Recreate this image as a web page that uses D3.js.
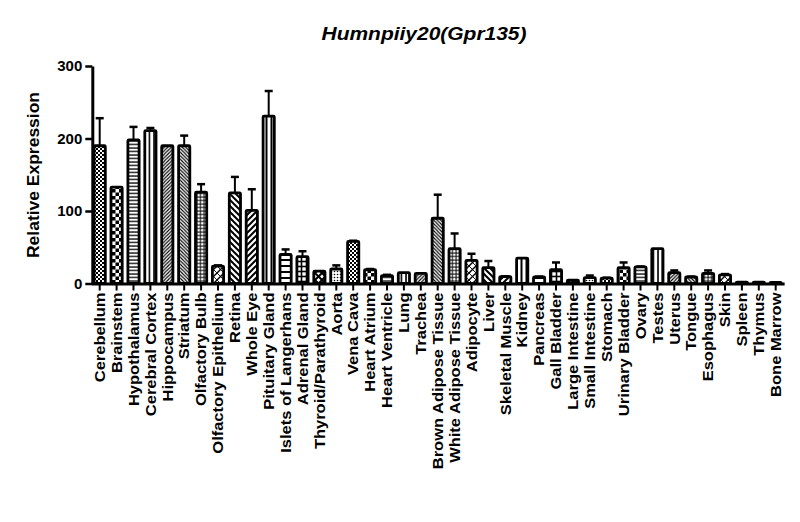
<!DOCTYPE html>
<html>
<head>
<meta charset="utf-8">
<script src="https://cdn.jsdelivr.net/npm/d3@7"></script>
<style>
body { margin: 0; background: #fff; }
text { font-family: "Liberation Sans", Arial, sans-serif; font-weight: bold; }
</style>
</head>
<body>
<svg id="chart" width="800" height="522"></svg>
<script>
var tissues = ["Cerebellum", "Brainstem", "Hypothalamus", "Cerebral Cortex", "Hippocampus",
  "Striatum", "Olfactory Bulb", "Olfactory Epithelium", "Retina", "Whole Eye",
  "Pituitary Gland", "Islets of Langerhans", "Adrenal Gland", "Thyroid/Parathyroid", "Aorta",
  "Vena Cava", "Heart Atrium", "Heart Ventricle", "Lung", "Trachea",
  "Brown Adipose Tissue", "White Adipose Tissue", "Adipocyte", "Liver", "Skeletal Muscle",
  "Kidney", "Pancreas", "Gall Bladder", "Large Intestine", "Small Intestine",
  "Stomach", "Urinary Bladder", "Ovary", "Testes", "Uterus",
  "Tongue", "Esophagus", "Skin", "Spleen", "Thymus", "Bone Marrow"];

var means = [190, 133, 198, 211, 190, 190, 126, 24, 125, 101,
  231, 40, 37, 17, 20, 58, 19, 11, 15, 14,
  90, 48, 32, 22, 9.5, 35, 9, 19, 4.5, 8,
  7.5, 22, 23, 48, 15, 9, 14, 12, 2, 2, 1.5];

var sems = [38, 0, 18, 3.5, 0, 14, 11, 1, 22, 29,
  34.5, 7, 7.5, 0, 5, 1, 1, 1, 0, 0,
  32.5, 21, 9, 9, 0.5, 0, 0.5, 10, 0, 3,
  0.5, 7, 0.5, 0, 3, 0.5, 4, 1, 0, 0, 0];

var yTicks = [0, 100, 200, 300];

var svg = d3.select("#chart");

var x = d3.scaleBand()
  .domain(tissues)
  .range([91.25, 784.15])
  .paddingInner(0.2)
  .paddingOuter(0.1);

var y = d3.scaleLinear()
  .domain([0, 300])
  .range([283.5, 66]);

// fill patterns, prism style, they repeat every 15 bars
var defs = svg.append("defs");
function pat(id, size) {
  return defs.append("pattern").attr("id", id)
    .attr("patternUnits", "userSpaceOnUse")
    .attr("width", size).attr("height", size)
    .call(function (p) { p.append("rect").attr("width", size).attr("height", size).attr("fill", "#fff"); });
}
function ln(p, x1, y1, x2, y2, w) {
  p.append("line").attr("x1", x1).attr("y1", y1).attr("x2", x2).attr("y2", y2)
    .attr("stroke", "#000").attr("stroke-width", w);
}
var p;
p = pat("p0", 4);
p.append("rect").attr("width", 2).attr("height", 2);
p.append("rect").attr("x", 2).attr("y", 2).attr("width", 2).attr("height", 2);
p = pat("p1", 7);
p.append("rect").attr("width", 3.5).attr("height", 3.5);
p.append("rect").attr("x", 3.5).attr("y", 3.5).attr("width", 3.5).attr("height", 3.5);
p = pat("p2", 3.5); ln(p, 0, 1, 3.5, 1, 1.3);
p = pat("p3", 4.5); ln(p, 1, 0, 1, 4.5, 1.6);
p = pat("p4", 3.5); ln(p, 0, 3.5, 3.5, 0, 1.1); ln(p, -1, 1, 1, -1, 1.1); ln(p, 2.5, 4.5, 4.5, 2.5, 1.1);
p = pat("p5", 3.5); ln(p, 0, 0, 3.5, 3.5, 1.1); ln(p, -1, 2.5, 1, 4.5, 1.1); ln(p, 2.5, -1, 4.5, 1, 1.1);
p = pat("p6", 3.5); ln(p, 0, 1, 3.5, 1, 1); ln(p, 1, 0, 1, 3.5, 1);
p = pat("p7", 7); ln(p, 0, 7, 7, 0, 1.4); ln(p, 0, 0, 7, 7, 0.9);
p = pat("p8", 6); ln(p, 0, 0, 6, 6, 2); ln(p, -2, 4, 2, 8, 2); ln(p, 4, -2, 8, 2, 2);
p = pat("p9", 6); ln(p, 0, 6, 6, 0, 2); ln(p, -2, 2, 2, -2, 2); ln(p, 4, 8, 8, 4, 2);
p = pat("p10", 5); ln(p, 1.5, 0, 1.5, 5, 2);
p = pat("p11", 6); ln(p, 0, 2, 6, 2, 2);
p = pat("p12", 5); ln(p, 0, 1.5, 5, 1.5, 1.6); ln(p, 1.5, 0, 1.5, 5, 1.6);
p = pat("p13", 7); ln(p, 0, 7, 7, 0, 2); ln(p, 0, 0, 7, 7, 2);
p = pat("p14", 3); p.append("circle").attr("cx", 1.5).attr("cy", 1.5).attr("r", 0.8);

// error bars, upper only
var err = svg.append("g").selectAll("g")
  .data(tissues)
  .enter()
  .append("g")
  .filter(function (d, i) { return sems[i] > 0; });
err.append("line")
  .attr("x1", function (d) { return x(d) + x.bandwidth() / 2; })
  .attr("x2", function (d) { return x(d) + x.bandwidth() / 2; })
  .attr("y1", function (d) { return y(means[tissues.indexOf(d)]); })
  .attr("y2", function (d) { var i = tissues.indexOf(d); return y(means[i] + sems[i]); })
  .attr("stroke", "#000").attr("stroke-width", 2);
err.append("line")
  .attr("x1", function (d) { return x(d) + x.bandwidth() / 2 - 4; })
  .attr("x2", function (d) { return x(d) + x.bandwidth() / 2 + 4; })
  .attr("y1", function (d) { var i = tissues.indexOf(d); return y(means[i] + sems[i]); })
  .attr("y2", function (d) { var i = tissues.indexOf(d); return y(means[i] + sems[i]); })
  .attr("stroke", "#000").attr("stroke-width", 2.5);

svg.append("g").selectAll("rect")
  .data(tissues)
  .enter()
  .append("rect")
  .attr("x", function (d) { return x(d) + x.bandwidth() / 2 - 5.6; })
  .attr("width", 11.2)
  .attr("y", function (d, i) { return y(means[i]); })
  .attr("height", function (d, i) { return y(0) - y(means[i]); })
  .attr("rx", 1)
  .attr("fill", function (d, i) { return "url(#p" + (i % 15) + ")"; })
  .attr("stroke", "#000")
  .attr("stroke-width", 2.8);

// axes
var yAxis = svg.append("g")
  .attr("transform", "translate(92.3,0)")
  .call(d3.axisLeft(y).tickValues(yTicks).tickSize(7).tickSizeOuter(0).tickPadding(3));
yAxis.select(".domain").attr("stroke-width", 3);
yAxis.selectAll(".tick line").attr("stroke-width", 2.5);
yAxis.selectAll("text").attr("font-size", 15).attr("fill", "#000").style("font-weight", "bold");

var xAxis = svg.append("g")
  .attr("transform", "translate(0,283.5)")
  .call(d3.axisBottom(x).tickSize(7).tickSizeOuter(0));
xAxis.select(".domain").attr("stroke-width", 3);
xAxis.selectAll(".tick line").attr("stroke-width", 2);
xAxis.selectAll("text")
  .attr("font-size", 15)
  .attr("fill", "#000")
  .attr("text-anchor", "end")
  .attr("x", 0).attr("y", 0).attr("dy", "0.35em")
  .attr("transform", "rotate(-90) translate(-9,0) scale(1.1,1)")
  .style("font-weight", "bold");

svg.append("text")
  .attr("transform", "translate(39,175) rotate(-90)")
  .attr("text-anchor", "middle")
  .attr("font-size", 17)
  .attr("textLength", 166)
  .attr("lengthAdjust", "spacingAndGlyphs")
  .text("Relative Expression");

svg.append("text")
  .attr("x", 424)
  .attr("y", 39.5)
  .attr("text-anchor", "middle")
  .attr("font-size", 18)
  .attr("font-style", "italic")
  .attr("textLength", 205)
  .attr("lengthAdjust", "spacingAndGlyphs")
  .text("Humnpiiy20(Gpr135)");
</script>
</body>
</html>
